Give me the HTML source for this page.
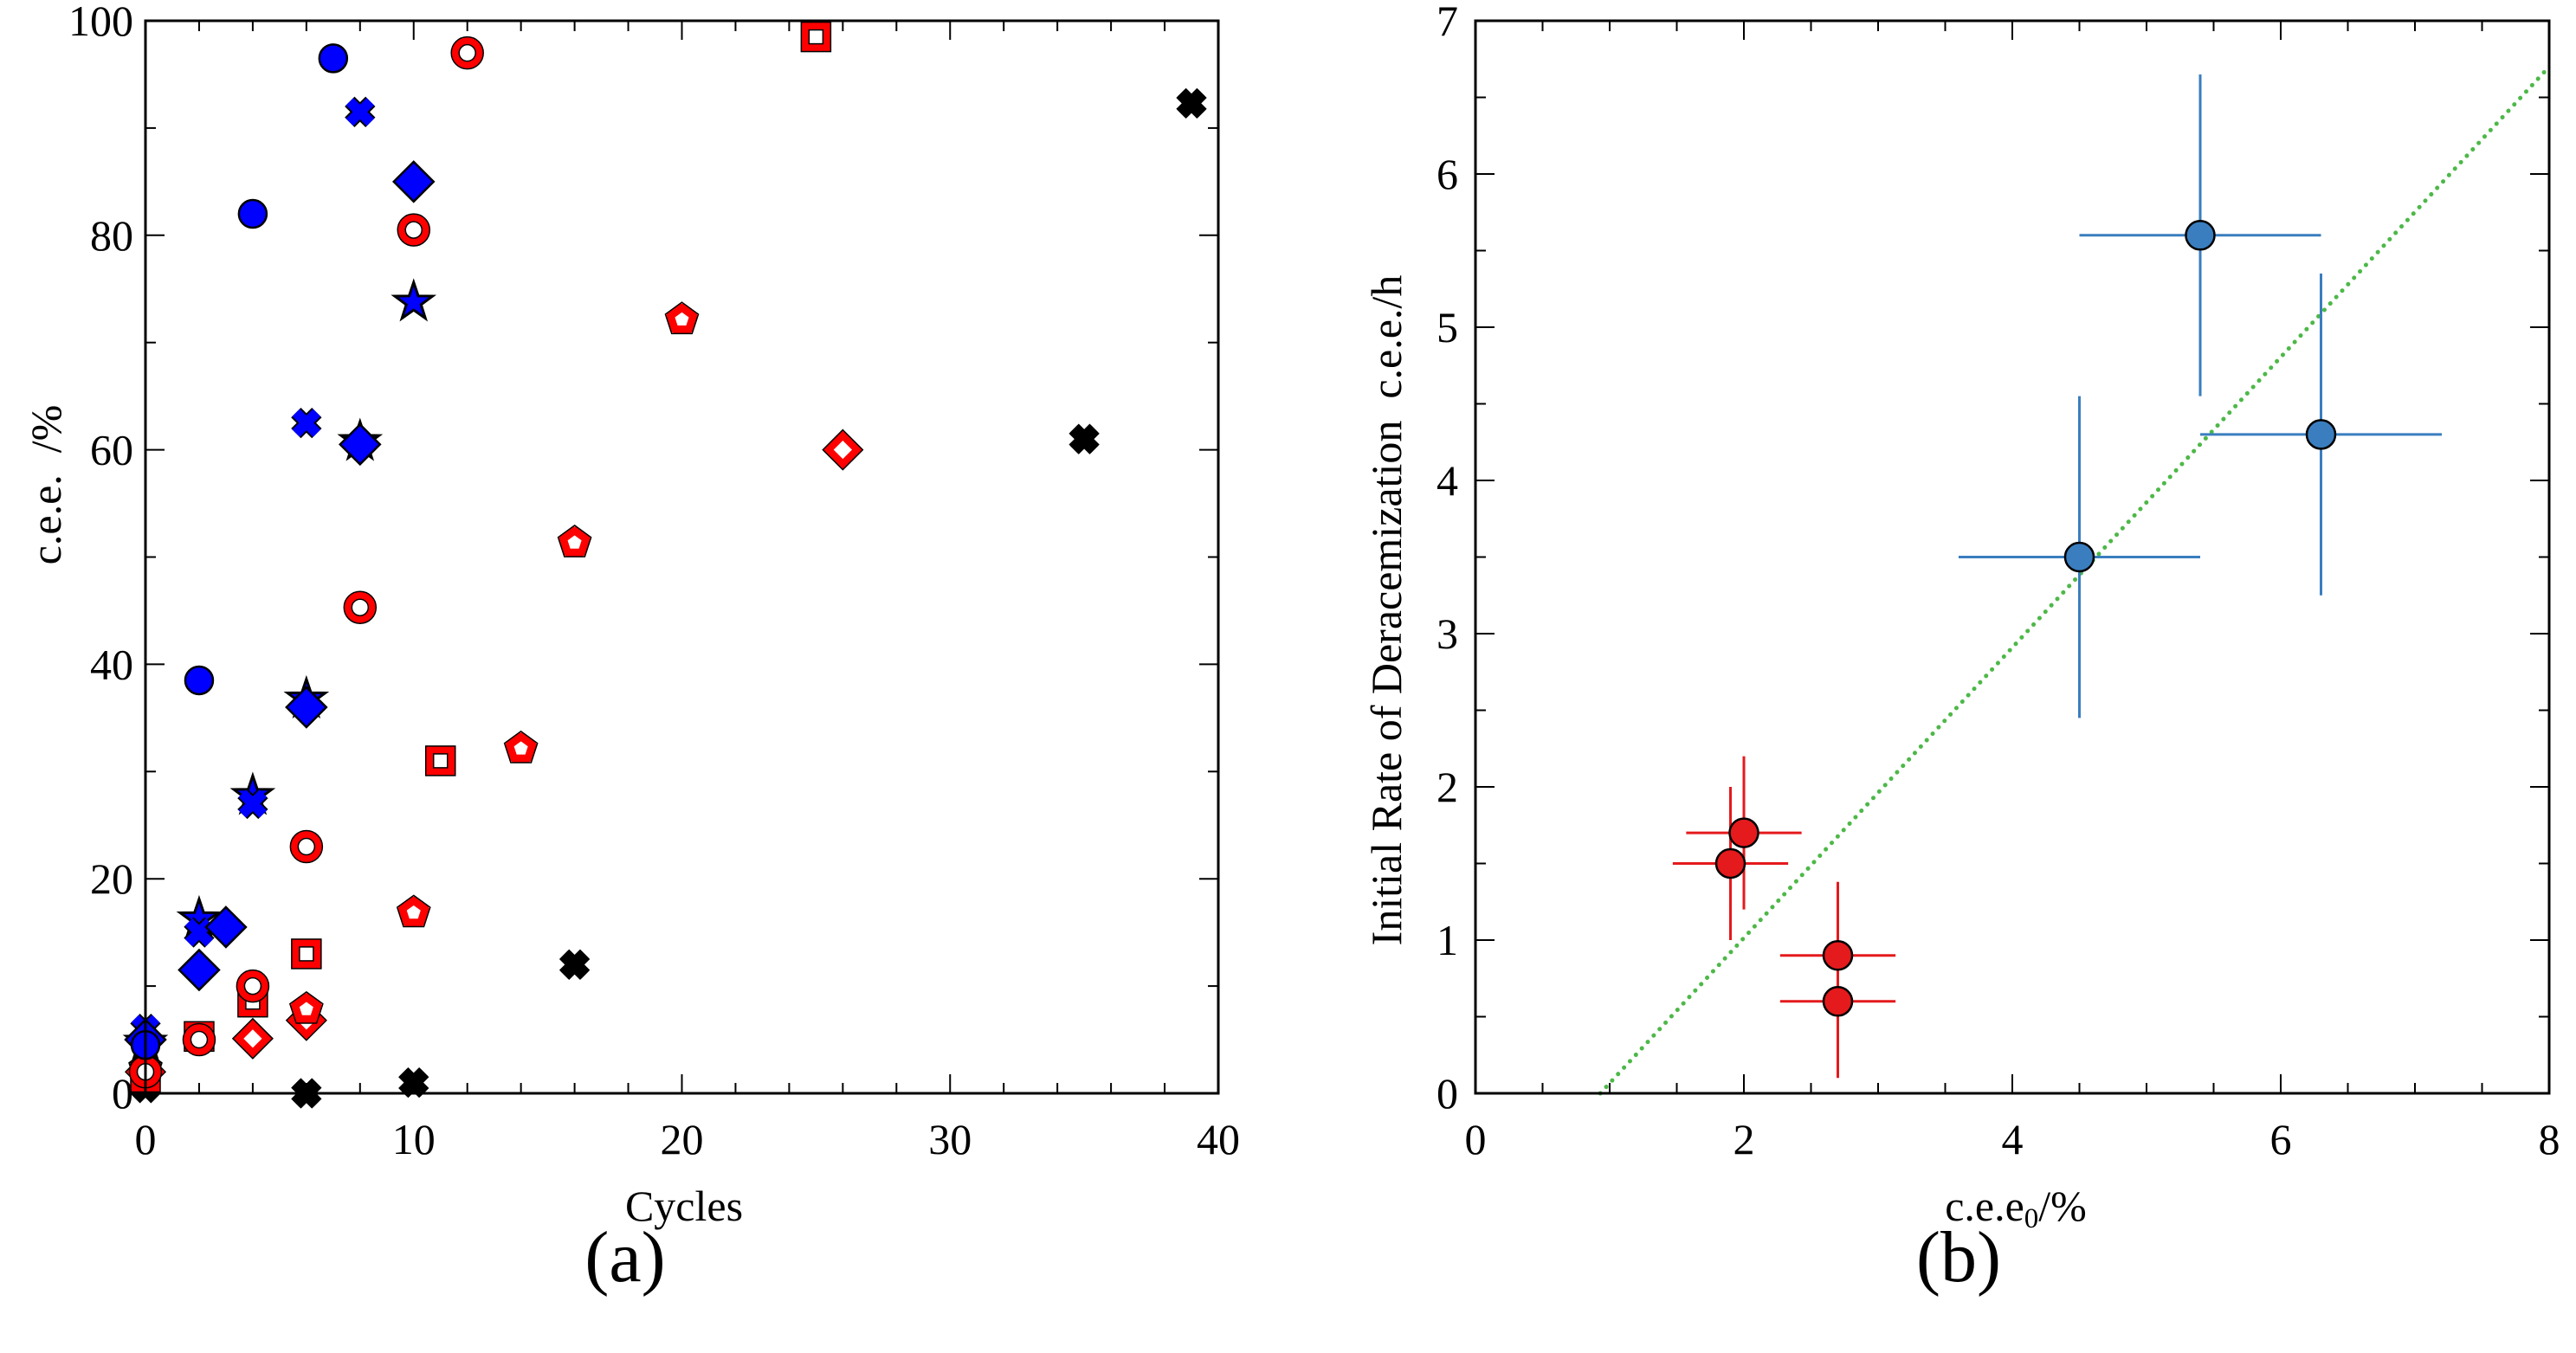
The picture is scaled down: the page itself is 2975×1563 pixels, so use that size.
<!DOCTYPE html>
<html><head><meta charset="utf-8">
<style>
html,body{margin:0;padding:0;background:#fff;}
svg{display:block;}
text{font-family:"Liberation Serif",serif;fill:#000;}
</style></head>
<body>
<svg id="fig" width="2975" height="1563" viewBox="0 0 2975 1563" xmlns="http://www.w3.org/2000/svg">
<g id="pa"></g>
<g id="pb"></g>
</svg>
<script>
// ---- Panel (a) data ----
const aXTicks = [0,10,20,30,40];
const aYTicks = [0,20,40,60,80,100];
const blueCircleX = [7,4,2,0];
const blueCircleY = [96.5,82,38.5,4.5];
const blueCrossX = [8,6,4,2,0];
const blueCrossY = [91.5,62.5,27,15,6];
const blueDiamondX = [10,8,6,3,2,0];
const blueDiamondY = [85,60.5,36,15.5,11.5,5];
const blueStarX = [10,8,6,4,2,0];
const blueStarY = [74,61,37,28,16.5,5];
const redCircleX = [12,10,8,6,4,2,0];
const redCircleY = [97,80.5,45.3,23,10,5,2];
const redSquareX = [25,11,6,4,2,0];
const redSquareY = [98.5,31,13,8.5,5.3,1.5];
const redPentX = [20,16,14,10,6,0];
const redPentY = [72.3,51.5,32.3,17,8,2.5];
const redDiamondX = [26,6,4,0];
const redDiamondY = [60,6.8,5.1,2];
const blackCrossX = [39,35,16,10,6,0];
const blackCrossY = [92.3,61,12,1,0,0.5];
// ---- Panel (b) data ----
const bXTicks = [0,2,4,6,8];
const bYTicks = [0,1,2,3,4,5,6,7];
const redPtX = [1.9,2.0,2.7,2.7];
const redPtY = [1.5,1.7,0.9,0.6];
const redPtXErr = [0.43,0.43,0.43,0.43];
const redPtYErr = [0.5,0.5,0.48,0.5];
const bluePtX = [4.5,5.4,6.3];
const bluePtY = [3.5,5.6,4.3];
const bluePtXErr = [0.9,0.9,0.9];
const bluePtYErr = [1.05,1.05,1.05];
const fitX = [0.93,8];
const fitY = [0,6.7];

const NS='http://www.w3.org/2000/svg';
function mk(parent,tag,attrs){const e=document.createElementNS(NS,tag);for(const k in attrs)e.setAttribute(k,attrs[k]);parent.appendChild(e);return e;}

const A={x0:168,x1:1407,y0:1263,y1:24,xmin:0,xmax:40,ymin:0,ymax:100};
const B={x0:1704,x1:2944,y0:1263,y1:24,xmin:0,xmax:8,ymin:0,ymax:7};
function sx(P,v){return P.x0+(v-P.xmin)/(P.xmax-P.xmin)*(P.x1-P.x0);}
function sy(P,v){return P.y0-(v-P.ymin)/(P.ymax-P.ymin)*(P.y0-P.y1);}

function frame(g,P,minorX,minorY,majX,majY){
  const f=mk(g,'rect',{x:P.x0,y:P.y1,width:P.x1-P.x0,height:P.y0-P.y1,fill:'none',stroke:'#000','stroke-width':3});
  
  
  for(let v=P.xmin;v<=P.xmax+1e-9;v+=minorX){
    const major=Math.abs(v/majX-Math.round(v/majX))<1e-6;const L=major?22:12;const x=sx(P,v);
    const t1=mk(g,'line',{x1:x,x2:x,y1:P.y0,y2:P.y0-L,stroke:'#000','stroke-width':2});
    
    
    const t2=mk(g,'line',{x1:x,x2:x,y1:P.y1,y2:P.y1+L,stroke:'#000','stroke-width':2});
    
    
  }
  for(let v=P.ymin;v<=P.ymax+1e-9;v+=minorY){
    const major=Math.abs(v/majY-Math.round(v/majY))<1e-6;const L=major?22:12;const y=sy(P,v);
    const t1=mk(g,'line',{x1:P.x0,x2:P.x0+L,y1:y,y2:y,stroke:'#000','stroke-width':2});
    
    
    const t2=mk(g,'line',{x1:P.x1,x2:P.x1-L,y1:y,y2:y,stroke:'#000','stroke-width':2});
    
    
  }
}
function label(g,x,y,txt,size,anchor,name){
  const t=mk(g,'text',{x:x,y:y,'font-size':size,'text-anchor':anchor||'middle'});
  t.textContent=txt;
  
  
  return t;
}

function marker(g,type,x,y,fill){
  let e;const sw=2.5;
  if(type==='circle'){e=mk(g,'circle',{cx:x,cy:y,r:16,fill:fill,stroke:'#000','stroke-width':sw});}
  else if(type==='ring'){e=mk(g,'g',{});mk(e,'circle',{cx:x,cy:y,r:14,fill:'#fff',stroke:'#f00','stroke-width':9});mk(e,'circle',{cx:x,cy:y,r:18.5,fill:'none',stroke:'#000','stroke-width':1.5});mk(e,'circle',{cx:x,cy:y,r:9.5,fill:'none',stroke:'#000','stroke-width':1.5});}
  else if(type==='square'){e=mk(g,'g',{});mk(e,'rect',{x:x-12.5,y:y-12.5,width:25,height:25,fill:'#fff',stroke:'#f00','stroke-width':9});mk(e,'rect',{x:x-17,y:y-17,width:34,height:34,fill:'none',stroke:'#000','stroke-width':1.5});mk(e,'rect',{x:x-8,y:y-8,width:16,height:16,fill:'none',stroke:'#000','stroke-width':1.5});}
  else if(type==='diamond'){const r=23;e=mk(g,'polygon',{points:`${x},${y-r} ${x+r},${y} ${x},${y+r} ${x-r},${y}`,fill:fill,stroke:'#000','stroke-width':sw});}
  else if(type==='odiamond'){e=mk(g,'g',{});const r=17;mk(e,'polygon',{points:`${x},${y-r} ${x+r},${y} ${x},${y+r} ${x-r},${y}`,fill:'#fff',stroke:'#f00','stroke-width':9});const R=23;mk(e,'polygon',{points:`${x},${y-R} ${x+R},${y} ${x},${y+R} ${x-R},${y}`,fill:'none',stroke:'#000','stroke-width':1.5});}
  else if(type==='pent'){e=mk(g,'g',{});const pts=r=>{let s='';for(let i=0;i<5;i++){const a=-Math.PI/2+i*2*Math.PI/5;s+=(x+r*Math.cos(a))+','+(y+2+r*Math.sin(a))+' ';}return s;};mk(e,'polygon',{points:pts(14),fill:'#fff',stroke:'#f00','stroke-width':9,'stroke-linejoin':'round'});mk(e,'polygon',{points:pts(20),fill:'none',stroke:'#000','stroke-width':1.5});}
  else if(type==='cross'){e=mk(g,'g',{});const d=12;mk(e,'path',{d:`M${x-d},${y-d}L${x+d},${y+d}M${x+d},${y-d}L${x-d},${y+d}`,stroke:'#000','stroke-width':16});mk(e,'path',{d:`M${x-d},${y-d}L${x+d},${y+d}M${x+d},${y-d}L${x-d},${y+d}`,stroke:fill,'stroke-width':12});}
  else if(type==='star'){let s='';for(let i=0;i<10;i++){const r=i%2?9:23;const a=-Math.PI/2+i*Math.PI/5;s+=(x+r*Math.cos(a))+','+(y+3+r*Math.sin(a))+' ';}e=mk(g,'polygon',{points:s,fill:fill,stroke:'#000','stroke-width':3});}
  return e;
}
function series(g,P,xs,ys,type,fill,name){
  for(let i=0;i<xs.length;i++){
    const e=marker(g,type,sx(P,xs[i]),sy(P,ys[i]),fill);
    
    
  }
}

const ga=document.getElementById('pa');
series(ga,A,blackCrossX,blackCrossY,'cross','#000','black-cross-point');
series(ga,A,redDiamondX,redDiamondY,'odiamond','#f00','red-diamond-point');
series(ga,A,redPentX,redPentY,'pent','#f00','red-pentagon-point');
series(ga,A,redSquareX,redSquareY,'square','#f00','red-square-point');
series(ga,A,redCircleX,redCircleY,'ring','#f00','red-circle-point');
series(ga,A,blueStarX,blueStarY,'star','#0000ff','blue-star-point');
series(ga,A,blueCrossX,blueCrossY,'cross','#0000ff','blue-cross-point');
series(ga,A,blueDiamondX,blueDiamondY,'diamond','#0000ff','blue-diamond-point');
series(ga,A,blueCircleX,blueCircleY,'circle','#0000ff','blue-circle-point');
frame(ga,A,2,10,10,20);
aXTicks.forEach(v=>label(ga,sx(A,v),1333,String(v),50,'middle','x-tick-label'));
aYTicks.forEach(v=>label(ga,A.x0-14,sy(A,v)+17,String(v),50,'end','y-tick-label'));
label(ga,790,1410,'Cycles',50,'middle','x-axis-title');
{const t=label(ga,0,0,'c.e.e.\u00a0\u00a0/%',50,'middle','y-axis-title');t.setAttribute('transform','translate(70,560) rotate(-90)');}
label(ga,722,1480,'(a)',84,'middle','panel-a-caption');

const gb=document.getElementById('pb');
{const l=mk(gb,'line',{x1:sx(B,fitX[0]),y1:sy(B,fitY[0]),x2:sx(B,fitX[1]),y2:sy(B,fitY[1]),stroke:'#4db848','stroke-width':5,'stroke-dasharray':'0.1 10','stroke-linecap':'round'});

}
function errPts(g,xs,ys,xe,ye,color,name){
  for(let i=0;i<xs.length;i++){
    const x=sx(B,xs[i]),y=sy(B,ys[i]);
    const h=mk(g,'line',{x1:sx(B,xs[i]-xe[i]),x2:sx(B,xs[i]+xe[i]),y1:y,y2:y,stroke:color,'stroke-width':3});
    
    
    const v=mk(g,'line',{x1:x,x2:x,y1:sy(B,ys[i]-ye[i]),y2:sy(B,ys[i]+ye[i]),stroke:color,'stroke-width':3});
    
    
  }
  for(let i=0;i<xs.length;i++){
    const c=mk(g,'circle',{cx:sx(B,xs[i]),cy:sy(B,ys[i]),r:16.5,fill:color,stroke:'#000','stroke-width':2.5});
    
    
  }
}
errPts(gb,redPtX,redPtY,redPtXErr,redPtYErr,'#e41a1c','red-point');
errPts(gb,bluePtX,bluePtY,bluePtXErr,bluePtYErr,'#3a7ebf','blue-point');
frame(gb,B,0.5,0.5,2,1);
bXTicks.forEach(v=>label(gb,sx(B,v),1333,String(v),50,'middle','x-tick-label'));
bYTicks.forEach(v=>label(gb,B.x0-20,sy(B,v)+17,String(v),50,'end','y-tick-label'));
{const t=mk(gb,'text',{x:2328,y:1410,'font-size':50,'text-anchor':'middle'});


t.innerHTML='c.e.e<tspan font-size="33" dy="8">0</tspan><tspan dy="-8">/%</tspan>';}
{const t=label(gb,0,0,'Initial Rate of Deracemization\u00a0\u00a0c.e.e./h',50,'middle','y-axis-title');t.setAttribute('transform','translate(1618,705) rotate(-90)');}
label(gb,2262,1480,'(b)',84,'middle','panel-b-caption');
</script>
</body></html>
